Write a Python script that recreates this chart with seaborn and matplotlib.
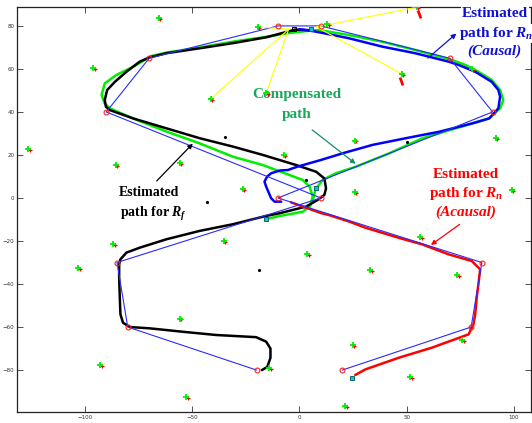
import numpy as np
import pandas as pd
import seaborn as sns
import matplotlib
matplotlib.use("Agg")
import matplotlib.pyplot as plt
from matplotlib.transforms import offset_copy

# reference route (waypoints, red circles)
ref_x = [20, 80, 85, -10, 90, 70, 10, -10, -70, -90, 10, -85, -80, -20]
ref_y = [-80, -60, -30, 0, 40, 65, 80, 80, 65, 40, 0, -30, -60, -80]

# estimated path for R_f (black)
rf_x = [4.7, -2, -15.5, -31, -46.5, -62, -69.8, -74.4, -80.6, -86, -89.6, -90.7, -90.2, -88.4,
        -77.5, -62, -46.5, -31, -17, -1.5, 7.8, 11.6, 12.4, 11.6, 8.5, 3.1, -9.3, -15.8, -31,
        -46.5, -62, -74.4, -80.6, -83.4, -84, -84, -83.7, -83.4, -82.2, -79, -69.8, -54.3,
        -38.8, -20.2, -15.5, -13.5, -13.5, -15, -17.5]
rf_y = [78, 78.3, 74.7, 72, 69.6, 67.3, 65.4, 63.4, 58.7, 54, 50.2, 45.6, 42.5, 40.9,
        37, 32.4, 27.8, 23.9, 20, 15.3, 12.2, 9.1, 4.5, 1.4, -0.9, -4, -7.1, -8.4, -12.2,
        -15.3, -19.2, -23.1, -25.4, -28.5, -30.8, -37, -46.4, -54.1, -58, -60, -60.6, -62.2,
        -63.7, -64.7, -66.8, -70, -74.3, -78.6, -80]

# compensated path (green)
comp_x = [-15.5, -9.3, 1.5, 4.7, 6.5, 7.5, 10.8, 17, 26.4, 41.9, 57.4, 72.9, 88.4, 93.5, 95,
          93.5, 89.6, 83.4, 77.2, 71, 54, 38.5, 22.9, 9, 3.1, -5.4, -17, -31, -46.5, -62, -69,
          -77.5, -85.3, -90.7, -92.2, -90.7, -88.4, -77.5, -62, -46.5, -31, -17, -4.7, 1.5, 4.7,
          6.2, 5.2]
comp_y = [-9.8, -8.4, -6.4, -4, 0, 4, 8.4, 11.5, 14.6, 20.8, 27.8, 32.4, 37, 41.7, 45.6,
          50.2, 54.9, 58.7, 61.9, 64.2, 68.8, 72.7, 75.8, 78.1, 77.6, 76.6, 74.7, 72.7, 70, 67.6, 66,
          61, 57.2, 53.3, 47.9, 44, 41.7, 37, 30.9, 25.4, 19.2, 15.3, 10.7, 8.4, 5.3,
          0.6, -3]

# estimated path for R_n, causal (blue)
causal_x = [-8.5, -11.6, -13.2, -15.5, -16.3, -15, -13.2, -9, -5.4, -0.8, 10.1, 20.2, 34.1, 49.6,
            65.1, 80.6, 88.4, 92.7, 93.5, 92.7, 89.6, 81.9, 74.1, 69.5, 54, 38.5, 22.9, 7.4, 0]
causal_y = [-1.7, -1.7, -0.1, 5.3, 7.6, 10, 11.5, 12.8, 13, 14.6, 17.7, 20.8, 24.7, 27.8,
            30.8, 34.7, 37, 41.7, 47.1, 50.2, 54, 58.7, 61.9, 63.4, 67.3, 70.4, 74.3, 77.4, 78.5]

# estimated path for R_n, acausal (red)
acausal_x = [-4, 3, 10, 14, 23.3, 30.7, 46.2, 57, 69.5, 80.3, 84.2, 83.4, 82.6, 81.9, 81.1,
             78.8, 61.7, 46.2, 30.7, 26]
acausal_y = [-2, -4.5, -7, -8, -11, -13.8, -18.5, -21.5, -26.2, -29.3, -33.2, -40.1, -46.4,
             -54.1, -58.8, -63.4, -69.6, -74.3, -79.7, -82.3]

# landmarks
lm_x = [-65.6, -19.5, -96, -126.5, -85.6, -55.8, -41.4, -26.5, -15.5, 54.7, 47.7, 80.3, 91.5,
        25.7, -7.3, 25.7, 98.9, 13, -86.8, -103.1, -55.8, -92.7, -52.7, -35.3, 56.3, 3.6, 33,
        73.6, 75.7, 24.8, 51.6, 21.4, -14]
lm_y = [83.7, 79.5, 60.5, 22.6, 15.3, 16.2, 46, 4.2, 48.7, 88.7, 57.7, 59.9, 28, 26.7, 20,
        2.9, 3.7, 81, -21.6, -32.4, -56.1, -77.8, -92.4, -20, -18, -25.9, -33.5, -35.8, -66,
        -68.4, -83.3, -96.7, -79.2]

# observation rays (yellow)
obs_x0 = [-5, -5, -5, 8, 8, 8]
obs_y0 = [78.5, 78.5, 78.5, 79.5, 79.5, 79.5]
obs_x1 = [-19.5, -41.4, -15.5, 13, 54.7, 47.7]
obs_y1 = [79.5, 46, 48.7, 81, 88.7, 57.7]

# start / end markers
cyan_x = [24.5, -15.5, 7.8, 5.4]
cyan_y = [-83.6, -9.8, 4.5, 78.5]
box_x = [-2.3]
box_y = [78.5]

# stray estimates
stray_x = [-34.9, -43, -18.9, 3.1, 50]
stray_y = [28.3, -1.7, -33.6, 8.4, 26.2]

# red uncertainty marks
ell_x = [55.5, 47.3]
ell_y = [85.5, 54.5]

sns.set_style("ticks")
plt.rcParams["mathtext.fontset"] = "custom"
plt.rcParams["mathtext.it"] = "Liberation Serif:italic:bold"
plt.rcParams["mathtext.rm"] = "Liberation Serif:bold"

fig = plt.figure(figsize=(5.32, 4.23), dpi=100)
ax = fig.add_axes([17 / 532, 11 / 423, 514 / 532, 405 / 423])

paths = [(comp_x, comp_y, "#00ee00"), (rf_x, rf_y, "black"),
         (causal_x, causal_y, "#0000ff"), (acausal_x, acausal_y, "#ff0000")]
for px_, py_, col in paths:
    sns.lineplot(x=px_, y=py_, sort=False, estimator=None, color=col, lw=1.8, ax=ax, zorder=2)

ax.plot(ref_x, ref_y, color="#2a2aff", lw=0.8, zorder=3)
ax.plot(ref_x, ref_y, "o", ms=3.5, mfc="none", mec="#ff2020", mew=0.8, zorder=5)

for x0, y0, x1, y1 in zip(obs_x0, obs_y0, obs_x1, obs_y1):
    ax.plot([x0, x1], [y0, y1], color="#ffff00", lw=0.8, zorder=3)

red_off = offset_copy(ax.transData, fig=fig, x=1.2, y=-0.6, units="points")
ax.plot(lm_x, lm_y, "+", ms=2.5, color="#ff0000", mew=0.9, transform=red_off, zorder=4)
sns.scatterplot(x=lm_x, y=lm_y, marker="+", s=20, color="#00ee00", linewidth=1.3, ax=ax, zorder=4)

ax.plot(cyan_x, cyan_y, "s", ms=3.5, mfc="#00cccc", mec="#005555", mew=0.6, zorder=6)
ax.plot(box_x, box_y, "s", ms=3.5, mfc="none", mec="black", mew=0.7, zorder=6)
ax.plot(stray_x, stray_y, ".", ms=2.5, color="black", zorder=4)
ax.plot(ell_x, ell_y, marker=(2, 0, 20), ms=6, mec="#ff0000", mew=2, ls="none", zorder=4)

txt = dict(fontfamily="Liberation Serif", fontweight="bold", ha="center", va="center")

# black label
ax.text(-70, 2.5, "Estimated", color="black", fontsize=10, **txt)
ax.text(-68, -7.4, r"path for $R_f$", color="black", fontsize=10, **txt)
ax.annotate("", xy=(-48.8, 26.2), xytext=(-67.4, 7),
            arrowprops=dict(arrowstyle="-|>", color="black", lw=0.9, mutation_scale=7))

# green label
ax.text(-1.2, 47.9, "Compensated", color="#17a85a", fontsize=11, **txt)
ax.text(-1.1, 38.6, "path", color="#17a85a", fontsize=11, **txt)
ax.annotate("", xy=(27.2, 15.1), xytext=(4.9, 32.5),
            arrowprops=dict(arrowstyle="-|>", color="#109060", lw=0.9, mutation_scale=7))

# blue label
bb = dict(facecolor="white", edgecolor="none", pad=0.5)
ax.text(91.2, 85.8, "Estimated", color="#1010d0", fontsize=11, bbox=bb, **txt)
ax.text(91.5, 76.6, r"path for $R_n$", color="#1010d0", fontsize=11, bbox=bb, **txt)
ax.text(90.9, 68.3, "(Causal)", color="#1010d0", fontsize=11, style="italic", bbox=bb, **txt)
ax.annotate("", xy=(74.1, 77.3), xytext=(58.9, 64.2),
            arrowprops=dict(arrowstyle="-|>", color="#1010d0", lw=0.9, mutation_scale=7))

# red label
ax.text(77.7, 10.7, "Estimated", color="#ff0000", fontsize=11, **txt)
ax.text(77.9, 2.2, r"path for $R_n$", color="#ff0000", fontsize=11, **txt)
ax.text(77.7, -6.5, "(Acausal)", color="#ff0000", fontsize=11, style="italic", **txt)
ax.annotate("", xy=(60.2, -22.6), xytext=(75.7, -11.5),
            arrowprops=dict(arrowstyle="-|>", color="#ff0000", lw=0.9, mutation_scale=7))

ax.set_xlim(-131.6, 107.9)
ax.set_ylim(-99.5, 88.8)
ax.set_xticks([-100, -50, 0, 50, 100])
ax.set_yticks([-80, -60, -40, -20, 0, 20, 40, 60, 80])
ax.tick_params(direction="in", length=4, width=0.6, labelsize=4, colors="#333333",
               top=True, right=True, pad=2)
for s in ax.spines.values():
    s.set_visible(True)
    s.set_linewidth(0.9)
    s.set_color("#222222")

fig.savefig("out.png", dpi=100)
